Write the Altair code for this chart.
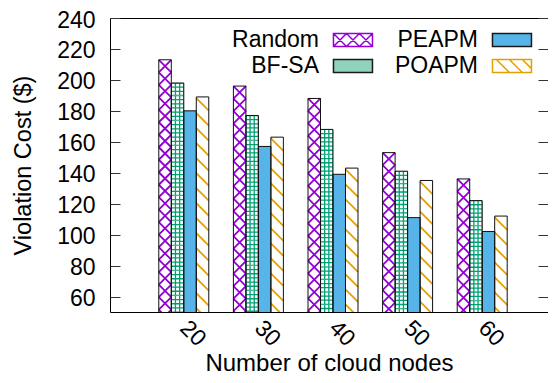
import altair as alt
import pandas as pd

# ---------------- data ----------------
nodes = ["20", "30", "40", "50", "60"]
series = ["Random", "BF-SA", "PEAPM", "POAPM"]
random_cost = [213, 196, 188, 153, 136]
bfsa_cost = [198, 177, 168, 141, 122]
peapm_cost = [180, 157, 139, 111, 102]
poapm_cost = [189, 163, 143, 135, 112]
y_ticks = [60, 80, 100, 120, 140, 160, 180, 200, 220, 240]

rows = []
for name, vals in zip(series, [random_cost, bfsa_cost, peapm_cost, poapm_cost]):
    for n, v in zip(nodes, vals):
        rows.append({"nodes": n, "series": name, "cost": v})
df = pd.DataFrame(rows)

# ---------------- geometry / style ----------------
W, H = 438, 294
YMIN, YMAX = 50, 240
PAD_IN, PAD_OUT, ALIGN = 0.33, 0.6005, 0.5446
step = W / (len(nodes) - PAD_IN + 2 * PAD_OUT)
BAR_PX = step * (1 - PAD_IN) / len(series)
UNIT = (YMAX - YMIN) / H          # data units per pixel
PER_R = BAR_PX * UNIT             # crosshatch period
PER_B = BAR_PX * UNIT             # checker tile period
PER_O = 15 * UNIT                 # diagonal stripe period
FONT = "Liberation Sans"
FS = 23

PURPLE, GREEN, BLUE, ORANGE = "#9400d3", "#009e73", "#56b4e9", "#e69f00"

yscale = alt.Scale(domain=[YMIN, YMAX], nice=False, zero=False)
xscale = alt.Scale(type="band", paddingInner=PAD_IN, paddingOuter=PAD_OUT, align=ALIGN)
xoff = alt.XOffset("series:N", sort=series,
                   scale=alt.Scale(type="band", paddingInner=0, paddingOuter=0))

x_axis = alt.Axis(labelAngle=45, labelAlign="left", labelBaseline="middle",
                  labelPadding=12, ticks=False, tickSize=0, domain=False, grid=False,
                  labelFontSize=FS, titleFontSize=24, titlePadding=0.5,
                  labelColor="black", titleColor="black", titleFontWeight="normal")
xenc = alt.X("nodes:O", sort=nodes, scale=xscale, axis=x_axis,
             title="Number of cloud nodes")

y_axis_left = alt.Axis(orient="left", values=y_ticks, tickSize=10, offset=-10,
                       domain=False, grid=False, labelPadding=15, labelOffset=2,
                       tickColor="#333", labelFontSize=FS, titleFontSize=23.5,
                       titlePadding=21, labelColor="black", titleColor="black",
                       titleFontWeight="normal")
y_axis_right = alt.Axis(orient="right", values=y_ticks, tickSize=10, offset=-10,
                        domain=False, grid=False, labels=False, tickColor="#333",
                        title=None)

# base fill of bars (domain order differs from the legend scales on purpose)
bar_dom = ["PEAPM", "Random", "BF-SA", "POAPM"]
bars = alt.Chart(df).mark_bar(clip=True, strokeWidth=0).encode(
    x=xenc, xOffset=xoff,
    y=alt.Y("cost:Q", scale=yscale, axis=y_axis_left, title="Violation Cost ($)"),
    color=alt.Color("series:N", legend=None,
                    scale=alt.Scale(domain=bar_dom,
                                    range=[BLUE, "#ffffff", "#ffffff", "#ffffff"])),
)


def pattern(name, period, shape, filled, color, sw):
    base = (alt.Chart(df)
            .transform_filter(alt.datum.series == name)
            .transform_calculate(
                k=f"sequence(0, ceil((datum.cost - {YMIN}) / {period}) + 1)")
            .transform_flatten(["k"])
            .transform_calculate(py=f"datum.cost - {period} * (datum.k + 0.5)"))
    if filled:
        m = base.mark_point(shape=shape, size=BAR_PX ** 2, filled=True, fill=color,
                            strokeWidth=0, opacity=1, clip=True)
    else:
        m = base.mark_point(shape=shape, size=BAR_PX ** 2, filled=False, stroke=color,
                            strokeWidth=sw, opacity=1, clip=True)
    return m.encode(x=xenc, xOffset=xoff,
                    y=alt.Y("py:Q", scale=yscale, axis=None))


# checker tile with square holes (nonzero winding)
holes = []
for cy in (-2 / 3, 0, 2 / 3):
    for cx in (-2 / 3, 0, 2 / 3):
        h = 0.23
        holes.append(f"M{cx-h:.3f},{cy-h:.3f}V{cy+h:.3f}H{cx+h:.3f}V{cy-h:.3f}Z")
tile = "M-1,-1H1V1H-1Z " + " ".join(holes)

pat_random = pattern("Random", PER_R, "M-1,-1L1,1M-1,1L1,-1", False, PURPLE, 1.8)
pat_bfsa = pattern("BF-SA", PER_B, tile, True, GREEN, 0)
pat_poapm = pattern("POAPM", PER_O, "M-1,-1L1,1", False, ORANGE, 1.8)

outline = alt.Chart(df).mark_bar(clip=True, fillOpacity=0, stroke="#111111",
                                 strokeWidth=1).encode(
    x=xenc, xOffset=xoff,
    y=alt.Y("cost:Q", scale=yscale, axis=y_axis_right),
)

# legend: sample box drawn to the right of its label (path shifted right)
def f(v):
    return f"{v:.2f}"


S0 = 2.19
S1 = S0 + 3
rect = f"M{f(S0)},-0.5H{f(S1)}V0.5H{f(S0)}Z"
leg_shapes = [
    rect + f" M{f(S0)},-0.5L{f(S0+1)},0.5L{f(S0+2)},-0.5L{f(S1)},0.5"
           f" M{f(S0)},0.5L{f(S0+1)},-0.5L{f(S0+2)},0.5L{f(S1)},-0.5",
    rect,
    rect,
    rect + f" M{f(S0+0.3)},-0.5L{f(S0+1.3)},0.5 M{f(S0+1.3)},-0.5L{f(S0+2.3)},0.5"
           f" M{f(S0+2.3)},-0.5L{f(S1)},0.2",
]
leg_fill = ["#ffffff", "#8fd3bf", BLUE, "#ffffff"]
leg_stroke = [PURPLE, "#1a1a1a", "#1a1a1a", ORANGE]

leg = alt.Legend(orient="none", legendX=181, legendY=8, columns=2, columnPadding=18,
                 rowPadding=0, padding=0, title=None, symbolSize=676,
                 symbolStrokeWidth=1.5, labelOffset=0, labelAlign="right",
                 labelFontSize=FS, labelFont=FONT, labelColor="black",
                 symbolOpacity=1, labelLimit=300)

legend_layer = alt.Chart(df).mark_point(filled=True, opacity=0).encode(
    x=xenc, xOffset=xoff,
    y=alt.Y("cost:Q", scale=yscale, axis=None),
    fill=alt.Fill("series:N", scale=alt.Scale(domain=series, range=leg_fill), legend=leg),
    stroke=alt.Stroke("series:N", scale=alt.Scale(domain=series, range=leg_stroke), legend=leg),
    shape=alt.Shape("series:N", scale=alt.Scale(domain=series, range=leg_shapes), legend=leg),
)

chart = alt.layer(bars, pat_random, pat_bfsa, pat_poapm, outline, legend_layer).resolve_axis(
    y="independent"
).properties(
    width=W, height=H,
    autosize=alt.AutoSizeParams(type="none"),
    padding={"left": 102, "top": 10, "right": 0, "bottom": 63},
).configure(font=FONT).configure_view(stroke="black", strokeWidth=1)

chart.save("out.html", embed_options={"renderer": "svg", "actions": False})
